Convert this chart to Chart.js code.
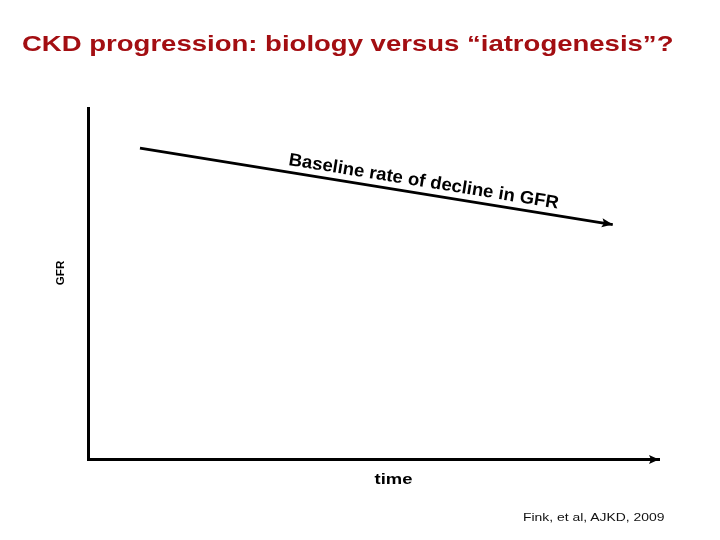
<!DOCTYPE html>
<html lang="en">
<head>
<meta charset="UTF-8" />
<title>CKD progression</title>
<script src="https://cdn.jsdelivr.net/npm/chart.js"></script>
<style>
  body { margin: 0; background: #fff; font-family: 'Liberation Sans', Arial, sans-serif; }
  .slide { position: relative; width: 720px; height: 540px; overflow: hidden; }
  #chart { position: absolute; left: 0; top: 0; }
  .title {
    position: absolute; left: 22px; top: 32px;
    font-size: 21.5px; line-height: 24px; font-weight: bold; color: #a30e12;
    white-space: nowrap; transform: scaleX(1.28); transform-origin: left top;
  }
  .source {
    position: absolute; left: 523px; top: 510px;
    font-size: 11.5px; line-height: 14px; color: #111;
    white-space: nowrap; transform: scaleX(1.21); transform-origin: left top;
  }
</style>
</head>
<body>
<div class="slide">
  <canvas id="chart" width="720" height="540"></canvas>
  <div class="title">CKD progression: biology versus “iatrogenesis”?</div>
  <div class="source">Fink, et al, AJKD, 2009</div>
</div>

<script>
  // schematic: GFR falling over time (arbitrary units 0-10)
  const timePoints = [0.91, 9.19];
  const gfrValues = [8.86, 6.68];
  const lineLabel = 'Baseline rate of decline in GFR';
  const xAxisLabel = 'time';
  const yAxisLabel = 'GFR';

  const FONT = '"Liberation Sans", Arial, sans-serif';

  function arrowHead(ctx, x1, y1, x2, y2, len, half) {
    const a = Math.atan2(y2 - y1, x2 - x1);
    ctx.save();
    ctx.translate(x2, y2);
    ctx.rotate(a);
    ctx.beginPath();
    ctx.moveTo(0, 0);
    ctx.lineTo(-len, -half);
    ctx.lineTo(-len * 0.8, 0);
    ctx.lineTo(-len, half);
    ctx.closePath();
    ctx.fillStyle = '#000';
    ctx.fill();
    ctx.restore();
  }

  const decorations = {
    id: 'decorations',
    afterDraw(chart) {
      const { ctx, chartArea, scales } = chart;

      // arrow on the time axis
      const yb = chartArea.bottom + 0.5;
      arrowHead(ctx, chartArea.left, yb, chartArea.right, yb, 10, 4.5);

      // arrow at the end of the decline line
      const pts = chart.getDatasetMeta(0).data;
      const p0 = pts[0], p1 = pts[pts.length - 1];
      arrowHead(ctx, p0.x, p0.y, p1.x, p1.y, 11, 4.5);

      // label along the line
      const ang = Math.atan2(p1.y - p0.y, p1.x - p0.x);
      const t = 0.596;
      const cx = p0.x + (p1.x - p0.x) * t + Math.sin(ang) * 7;
      const cy = p0.y + (p1.y - p0.y) * t - Math.cos(ang) * 7;
      ctx.save();
      ctx.translate(cx, cy);
      ctx.rotate(ang);
      ctx.scale(1.03, 1);
      ctx.font = 'bold 18px ' + FONT;
      ctx.fillStyle = '#000';
      ctx.textAlign = 'center';
      ctx.textBaseline = 'alphabetic';
      ctx.fillText(lineLabel, 0, 0);
      ctx.restore();

      // y axis title
      ctx.save();
      ctx.translate(chartArea.left - 24, scales.y.getPixelForValue(5.3));
      ctx.rotate(-Math.PI / 2);
      ctx.scale(1.1, 1);
      ctx.font = 'bold 10.5px ' + FONT;
      ctx.fillStyle = '#000';
      ctx.textAlign = 'center';
      ctx.textBaseline = 'alphabetic';
      ctx.fillText(yAxisLabel, 0, 0);
      ctx.restore();

      // x axis title
      ctx.save();
      ctx.translate(scales.x.getPixelForValue(5.35), chartArea.bottom + 25);
      ctx.scale(1.27, 1);
      ctx.font = 'bold 14.5px ' + FONT;
      ctx.fillStyle = '#000';
      ctx.textAlign = 'center';
      ctx.textBaseline = 'alphabetic';
      ctx.fillText(xAxisLabel, 0, 0);
      ctx.restore();
    }
  };

  const axisOpts = {
    type: 'linear',
    min: 0,
    max: 10,
    ticks: { display: false },
    grid: { display: false, drawTicks: false },
    border: { display: true, color: '#000', width: 3 }
  };

  new Chart(document.getElementById('chart'), {
    type: 'scatter',
    data: {
      datasets: [{
        data: timePoints.map((t, i) => ({ x: t, y: gfrValues[i] })),
        showLine: true,
        borderColor: '#000',
        borderWidth: 2.8,
        pointRadius: 0,
        fill: false
      }]
    },
    options: {
      responsive: false,
      animation: false,
      devicePixelRatio: 1,
      layout: { padding: { left: 88, right: 61, top: 108, bottom: 81 } },
      plugins: { legend: { display: false }, tooltip: { enabled: false } },
      scales: { x: axisOpts, y: axisOpts }
    },
    plugins: [decorations]
  });
</script>
</body>
</html>
